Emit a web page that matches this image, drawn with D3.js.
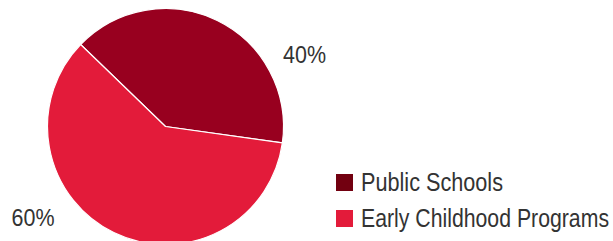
<!DOCTYPE html>
<html>
<head>
<meta charset="utf-8">
<script src="https://cdn.jsdelivr.net/npm/d3@7"></script>
<style>
  html, body { margin: 0; padding: 0; background: #fff; }
  svg text { font-family: "Liberation Sans", Arial, sans-serif; fill: #333; }
</style>
</head>
<body>
<div id="pie-div"></div>
<script>
// data
var categories = ["Public Schools", "Early Childhood Programs"];
var shares = [40, 60];
var pctLabels = ["40%", "60%"];

var sliceColors = ["#98001f", "#e31b3a"];
var legendColors = ["#720010", "#e31b3a"];

function drawPie() {
    var svgWidth = 613;
    var svgHeight = 241;
    var radius = 118;
    var cx = 165.5, cy = 126.5;

    var svg = d3.select('#pie-div').append("svg")
        .attr('width', svgWidth)
        .attr('height', svgHeight);

    var dataset = categories.map(function(c, i) {
        return { key: c, value: shares[i], label: pctLabels[i], color: sliceColors[i], legend: legendColors[i] };
    });

    // first slice starts a bit left of 12 o'clock
    var start = -46 * Math.PI / 180;
    var pie = d3.pie()
        .sort(null)
        .value(function(d) { return d.value; })
        .startAngle(start)
        .endAngle(start + 2 * Math.PI);

    var arc = d3.arc().innerRadius(0).outerRadius(radius);

    var g = svg.append("g").attr("transform", "translate(" + cx + "," + cy + ")");

    var arcs = pie(dataset);

    g.selectAll("path")
        .data(arcs)
        .enter()
        .append("path")
        .attr("d", arc)
        .attr("fill", function(d) { return d.data.color; })
        .attr("stroke", "#fff")
        .attr("stroke-width", 1.2)
        .attr("stroke-linejoin", "round");

    // percentage labels outside the pie (font in the original is condensed, so squeeze)
    var labelOffsets = [[117.5, -64], [-154, 99.5]];
    g.selectAll(".pct")
        .data(arcs)
        .enter()
        .append("text")
        .attr("class", "pct")
        .attr("x", function(d, i) { return labelOffsets[i][0]; })
        .attr("y", function(d, i) { return labelOffsets[i][1]; })
        .attr("textLength", 43)
        .attr("lengthAdjust", "spacingAndGlyphs")
        .style("font-size", "24px")
        .text(function(d) { return d.data.label; });

    // legend
    var legendWidths = [142, 248];
    var legend = svg.append("g").attr("transform", "translate(336, 174)");
    var rows = legend.selectAll(".row")
        .data(dataset)
        .enter()
        .append("g")
        .attr("class", "row")
        .attr("transform", function(d, i) { return "translate(0," + (i * 36) + ")"; });

    rows.append("rect")
        .attr("width", 17)
        .attr("height", 17)
        .attr("fill", function(d) { return d.legend; });

    rows.append("text")
        .attr("x", 25)
        .attr("y", 17)
        .attr("textLength", function(d, i) { return legendWidths[i]; })
        .attr("lengthAdjust", "spacingAndGlyphs")
        .style("font-size", "25px")
        .text(function(d) { return d.key; });
}

drawPie();
</script>
</body>
</html>
